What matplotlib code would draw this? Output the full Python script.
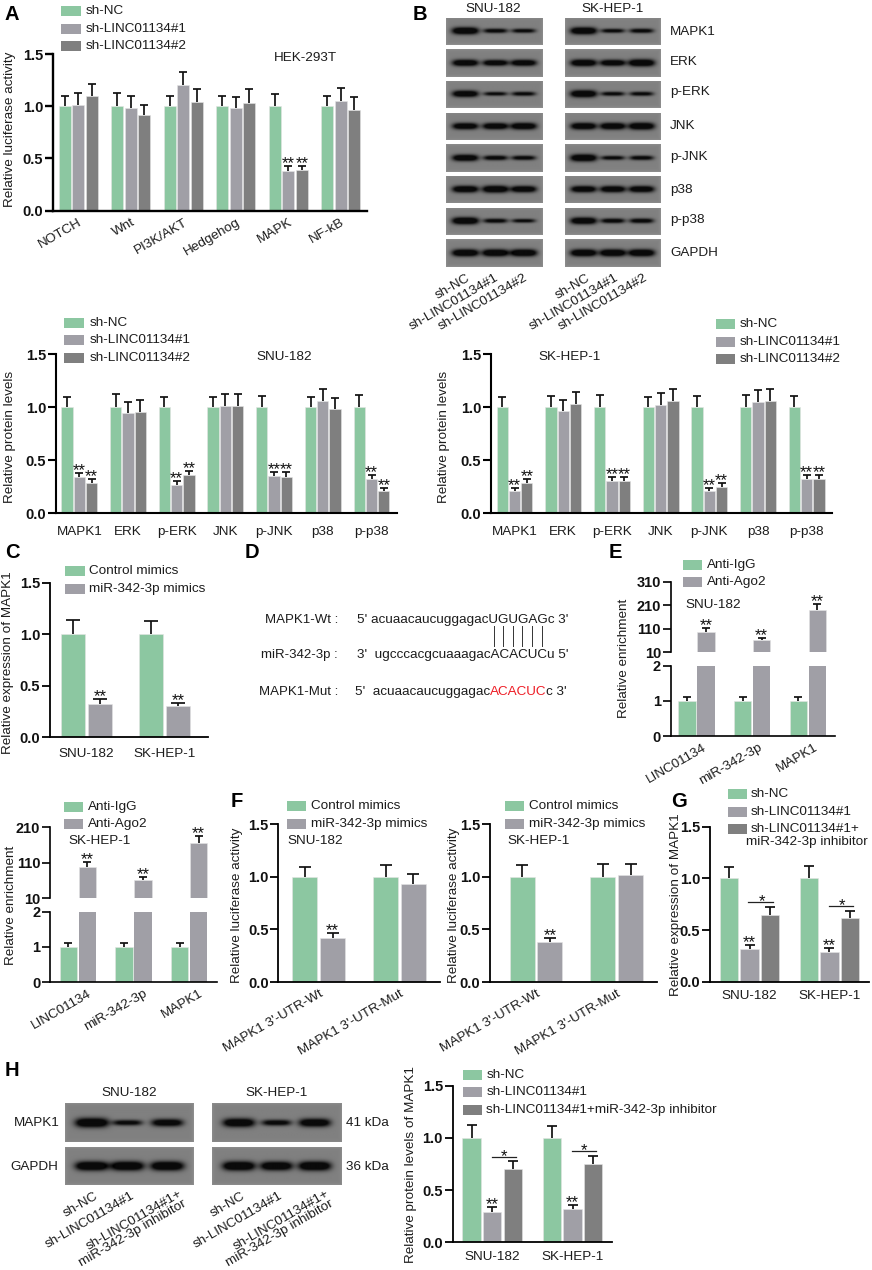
import numpy as np
import matplotlib
matplotlib.use('Agg')
import matplotlib.pyplot as plt
from matplotlib.patches import Rectangle
from matplotlib.transforms import ScaledTranslation

plt.rcParams['font.family'] = ['Liberation Sans', 'DejaVu Sans']
W, H = 872, 1270
GREEN, GRAY, DARK = '#8CC7A1', '#A09FA6', '#7F7F7F'
TXT = '#1c1c1c'
FS, TFS, SFS = 9.7, 10.5, 12.2

# ---------- data ----------
path_labels = ['NOTCH', 'Wnt', 'PI3K/AKT', 'Hedgehog', 'MAPK', 'NF-kB']
A_nc = [1.0, 1.0, 1.0, 1.0, 1.0, 1.0]
A_s1 = [1.01, 0.98, 1.20, 0.98, 0.38, 1.05]
A_s2 = [1.10, 0.92, 1.04, 1.03, 0.39, 0.96]
A_nc_top = [1.10, 1.13, 1.10, 1.10, 1.115, 1.10]
A_s1_top = [1.13, 1.10, 1.33, 1.085, 0.43, 1.175]
A_s2_top = [1.214, 1.01, 1.165, 1.165, 0.43, 1.085]
A_sig = ['', '', '', '', '**', '']

prot_labels = ['MAPK1', 'ERK', 'p-ERK', 'JNK', 'p-JNK', 'p38', 'p-p38']
S_nc = [1.0] * 7
S_s1 = [0.34, 0.95, 0.27, 1.015, 0.35, 1.055, 0.325]
S_s2 = [0.285, 0.96, 0.36, 1.01, 0.345, 0.985, 0.215]
S_nc_top = [1.10, 1.123, 1.094, 1.094, 1.107, 1.097, 1.113]
S_s1_top = [0.377, 1.053, 0.308, 1.126, 0.393, 1.17, 0.365]
S_s2_top = [0.32, 1.066, 0.40, 1.123, 0.39, 1.09, 0.242]
S_sig = ['**', '', '**', '', '**', '', '**']

K_nc = [1.0] * 7
K_s1 = [0.21, 0.965, 0.30, 1.02, 0.21, 1.05, 0.32]
K_s2 = [0.29, 1.03, 0.305, 1.055, 0.25, 1.06, 0.325]
K_nc_top = [1.10, 1.107, 1.113, 1.10, 1.107, 1.116, 1.107]
K_s1_top = [0.242, 1.069, 0.343, 1.132, 0.239, 1.164, 0.362]
K_s2_top = [0.324, 1.145, 0.346, 1.17, 0.283, 1.173, 0.365]

cells = ['SNU-182', 'SK-HEP-1']
C_ctl = [1.0, 1.0]
C_mim = [0.32, 0.30]
C_ctl_top = [1.132, 1.123]
C_mim_top = [0.368, 0.332]

enrich_labels = ['LINC01134', 'miR-342-3p', 'MAPK1']
E1_igg = [1.0, 1.0, 1.0]
E1_igg_top = [1.11, 1.11, 1.11]
E1_ago = [98, 62.5, 191.5]
E1_ago_top = [112, 71, 215.7]
E2_igg = [1.0, 1.0, 1.0]
E2_igg_top = [1.118, 1.10, 1.10]
E2_ago = [99, 61.6, 165]
E2_ago_top = [112, 70, 184.8]

utr_labels = ["MAPK1 3'-UTR-Wt", "MAPK1 3'-UTR-Mut"]
F1_ctl = [1.0, 1.0]
F1_mim = [0.42, 0.935]
F1_ctl_top = [1.095, 1.117]
F1_mim_top = [0.47, 1.029]
F2_ctl = [1.0, 1.0]
F2_mim = [0.38, 1.02]
F2_ctl_top = [1.114, 1.12]
F2_mim_top = [0.419, 1.124]
F_sig = ['**', '']

G_nc = [1.0, 1.0]
G_s1 = [0.315, 0.285]
G_inh = [0.65, 0.615]
G_nc_top = [1.106, 1.12]
G_s1_top = [0.355, 0.323]
G_inh_top = [0.72, 0.684]
G_bracket = [0.774, 0.729]

HP_nc = [1.0, 1.0]
HP_s1 = [0.295, 0.315]
HP_inh = [0.70, 0.75]
HP_nc_top = [1.12, 1.117]
HP_s1_top = [0.335, 0.357]
HP_inh_top = [0.776, 0.83]
HP_bracket = [0.817, 0.878]

blot_rows = ['MAPK1', 'ERK', 'p-ERK', 'JNK', 'p-JNK', 'p38', 'p-p38', 'GAPDH']
B_snu = [[1.0, .55, .5], [.9, .8, .85], [.9, .45, .5], [.85, .85, .9],
         [.9, .6, .55], [.9, .95, .85], [1.0, .55, .45], [1, 1, 1]]
B_hep = [[1.0, .5, .55], [.95, .85, 1.0], [1.0, .5, .5], [.9, .9, .95],
         [1.0, .5, .55], [.85, .85, .85], [.95, .6, .6], [1, 1, 1]]
H_snu = [[1.0, .5, .75], [1, 1, 1]]
H_hep = [[.9, .55, .85], [1, .95, 1]]

fig = plt.figure(figsize=(W / 100, H / 100), dpi=100, facecolor='white')
ov = fig.add_axes([0, 0, 1, 1], zorder=20)
ov.set_xlim(0, W)
ov.set_ylim(H, 0)
ov.axis('off')


def T(x, y, s, ha='left', va='center', fs=FS, **kw):
    kw.setdefault('color', TXT)
    ov.text(x, y, s, ha=ha, va=va, fontsize=fs, **kw)


def axpx(l, t, r, b):
    return fig.add_axes([l / W, 1 - b / H, (r - l) / W, (b - t) / H], facecolor='none')


def legend(x0, x1, tx, ys, labels, cols, ph=10):
    for y, lab, c in zip(ys, labels, cols):
        ov.add_patch(Rectangle((x0, y - ph / 2), x1 - x0, ph, fc=c, ec='none'))
        T(tx, y, lab)


def style(ax, lw, ticks, ticklabels):
    for s in ('top', 'right'):
        ax.spines[s].set_visible(False)
    ax.spines['left'].set_linewidth(lw)
    ax.spines['bottom'].set_linewidth(lw)
    ax.set_yticks(ticks)
    ax.set_yticklabels(ticklabels, fontsize=TFS, fontweight='bold', color='#111111')
    ax.tick_params(axis='y', length=5.5, width=lw, pad=1.5)


def draw_bars(ax, xs, vals, tops, col, bw, cap, elw, sigs=None, star_off=-1.5):
    vals, tops = np.array(vals, float), np.array(tops, float)
    ax.bar(xs, vals, width=bw, color=col, edgecolor='#e4e4e4', linewidth=0.4, zorder=2)
    eb = ax.errorbar(xs, vals, yerr=[np.zeros_like(vals), tops - vals], fmt='none', ecolor='#111111',
                     elinewidth=elw, capsize=cap, capthick=elw, zorder=3)
    eb[1][0].set_visible(False)  # upper whisker only
    if sigs:
        for x, t, s in zip(xs, tops, sigs):
            if s:
                ax.annotate(s, (x, t), xytext=(0, star_off), textcoords='offset points', ha='center',
                            va='baseline', fontsize=SFS, color='#111111', zorder=5, annotation_clip=False)


def panel(rect, c0, gstep, bw, bstep, series, tops, sigs, cols, labels, rot=0, cap=2.6, lw=1.5, elw=1.25,
          pad=4, fs=FS):
    l, t, r, b = rect
    ax = axpx(l, t, r, b)
    ax.set_xlim(0, r - l)
    ax.set_ylim(0, 1.5)
    n = len(series)
    centers = np.array([c0 - l + i * gstep for i in range(len(labels))])
    for j in range(n):
        xs = centers + (j - (n - 1) / 2) * bstep
        draw_bars(ax, xs, series[j], tops[j], cols[j], bw, cap, elw, sigs[j])
    style(ax, lw, [0, .5, 1, 1.5], ['0.0', '0.5', '1.0', '1.5'])
    ax.set_xticks(centers)
    if rot:
        ax.set_xticklabels(labels, rotation=rot, ha='right', va='top', rotation_mode='anchor',
                           fontsize=fs, color=TXT)
    else:
        ax.set_xticklabels(labels, fontsize=fs, color=TXT)
    ax.tick_params(axis='x', length=0, pad=pad)
    return ax, centers


def bracket(ax, x0, x1, y, xstar):
    ax.plot([x0, x1], [y, y], color='#222222', lw=0.9, zorder=4)
    ax.annotate('*', (xstar, y), xytext=(0, -3.0), textcoords='offset points', ha='center', va='baseline',
                fontsize=SFS, color='#111111', annotation_clip=False)


def broken(x_l, x_r, b_low, t_low, b_up, t_up, uticks, utop, c0, bw, bstep, gstep, igg, igg_top, ago, ago_top,
           labels, dx):
    low = axpx(x_l, t_low, x_r, b_low)
    up = axpx(x_l, t_up, x_r, b_up)
    low.set_xlim(0, x_r - x_l)
    up.set_xlim(0, x_r - x_l)
    low.set_ylim(0, 2)
    up.set_ylim(10, utop)
    c = np.array([c0 - x_l + i * gstep for i in range(3)])
    draw_bars(low, c - bstep / 2, igg, igg_top, GREEN, bw, 3.2, 1.25)
    low.bar(c + bstep / 2, [2, 2, 2], width=bw, color=GRAY, edgecolor='none', zorder=2)
    draw_bars(up, c + bstep / 2, ago, ago_top, GRAY, bw, 3.2, 1.25, ['**'] * 3)
    style(low, 1.2, [0, 1, 2], ['0', '1', '2'])
    style(up, 1.2, uticks, [str(v) for v in uticks])
    up.spines['bottom'].set_visible(False)
    up.set_xticks([])
    low.set_xticks(c)
    low.set_xticklabels(labels, rotation=30, ha='right', va='top', rotation_mode='anchor', fontsize=FS, color=TXT)
    low.tick_params(axis='x', length=0, pad=4)
    off = ScaledTranslation(dx / 100, 0, fig.dpi_scale_trans)
    for lab in low.get_xticklabels():
        lab.set_transform(lab.get_transform() + off)


def blot(l, t, r, b, centers, strengths, hw, thick=1.0):
    ax = axpx(l, t, r, b)
    h, w = int(round(b - t)) * 3, int(round(r - l)) * 3
    yy, xx = np.mgrid[0:h, 0:w]
    yy = (yy + .5) / 3
    xx = (xx + .5) / 3
    ym = (b - t) / 2
    edge = np.minimum.reduce([xx, yy, (r - l) - xx, (b - t) - yy])
    img = 128.0 + 14 * np.exp(-edge / 1.5)
    for cf, s in zip(centers, strengths):
        cx = cf * (r - l)
        sy = (0.8 + 2.6 * s) * thick
        a = (0.45 + 0.65 * s) * np.exp(-np.abs((xx - cx) / (hw * (0.82 + 0.18 * s))) ** 4) \
            * np.exp(-((yy - ym) / sy) ** 2)
        img = img - 118 * np.clip(a * 1.5, 0, 1)
    ax.imshow(img, cmap='gray', vmin=0, vmax=255, aspect='auto', interpolation='bilinear')
    ax.axis('off')


# ---------- Panel A ----------
panel((53, 54, 367, 210.7), 78.3, 52.5, 12, 13.5, [A_nc, A_s1, A_s2], [A_nc_top, A_s1_top, A_s2_top],
      [None, A_sig, A_sig], [GREEN, GRAY, DARK], path_labels, rot=30, lw=1.7)
legend(61.3, 81, 86, [10.7, 28.7, 46.3], ['sh-NC', 'sh-LINC01134#1', 'sh-LINC01134#2'], [GREEN, GRAY, DARK])
T(305, 58, 'HEK-293T', ha='center')
T(10, 129, 'Relative luciferase activity', ha='center', rotation=90)

# ---------- Panel B blots ----------
row_y = [(17.7, 45.3), (49.3, 77), (80.7, 108.3), (112.7, 140), (144.3, 172), (176, 203.3), (207.7, 235.3), (239, 266.7)]
row_lab_y = [32, 62, 92, 126, 157, 190, 220, 253]
for (t, b), ss, sh, name, ly in zip(row_y, B_snu, B_hep, blot_rows, row_lab_y):
    blot(446, t, 542, b, [.2, .51, .80], ss, 13)
    blot(565.3, t, 661, b, [.195, .5, .80], sh, 13)
    T(670, ly, name)
T(493, 9, 'SNU-182', ha='center')
T(612.7, 9, 'SK-HEP-1', ha='center')
for x0 in (0, 120):
    for lab, xe in zip(['sh-NC', 'sh-LINC01134#1', 'sh-LINC01134#2'], [469, 497.7, 527]):
        T(xe + x0, 277, lab, ha='right', va='center', rotation=30, rotation_mode='anchor')

# ---------- SNU-182 / SK-HEP-1 protein levels ----------
panel((56, 354.3, 397, 513.3), 79.3, 48.7, 11.3, 12.3, [S_nc, S_s1, S_s2], [S_nc_top, S_s1_top, S_s2_top],
      [None, S_sig, S_sig], [GREEN, GRAY, DARK], prot_labels, lw=1.5, pad=9)
legend(64.3, 84, 89.3, [322.7, 340.3, 358.3], ['sh-NC', 'sh-LINC01134#1', 'sh-LINC01134#2'], [GREEN, GRAY, DARK])
T(284, 356.7, 'SNU-182', ha='center')
T(10, 437, 'Relative protein levels', ha='center', rotation=90)

panel((491, 354.3, 831.7, 513.3), 514.5, 48.7, 11.3, 12.3, [K_nc, K_s1, K_s2], [K_nc_top, K_s1_top, K_s2_top],
      [None, S_sig, S_sig], [GREEN, GRAY, DARK], prot_labels, lw=1.5, pad=9)
legend(715.7, 735, 740, [324, 341.7, 359.3], ['sh-NC', 'sh-LINC01134#1', 'sh-LINC01134#2'], [GREEN, GRAY, DARK])
T(570, 356.7, 'SK-HEP-1', ha='center')
T(444, 437, 'Relative protein levels', ha='center', rotation=90)

# ---------- Panel C ----------
panel((50, 582.5, 207.7, 737.3), 86.5, 78.3, 24, 27, [C_ctl, C_mim], [C_ctl_top, C_mim_top],
      [None, ['**', '**']], [GREEN, GRAY], cells, cap=5.0, lw=1.3, pad=8)
legend(65, 84.6, 89, [571, 588.7], ['Control mimics', 'miR-342-3p mimics'], [GREEN, GRAY])
T(8.5, 663, 'Relative expression of MAPK1', ha='center', rotation=90)

# ---------- Panel D ----------
T(338, 620, 'MAPK1-Wt :', ha='right', fs=9.5)
T(338, 655, 'miR-342-3p :', ha='right', fs=9.5)
T(338, 691.7, 'MAPK1-Mut :', ha='right', fs=9.5)
T(357, 620, "5' acuaacaucuggagacUGUGAGc 3'")
T(357, 655, "3'  ugcccacgcuaaagacACACUCu 5'")
T(490, 691.7, "5'  acuaacaucuggagac", ha='right')
T(490, 691.7, 'ACACUC', color='#ee1c25')
T(546, 691.7, 'c 3\'')
for x in [494, 503, 512.7, 522, 532, 541.5]:
    ov.plot([x, x], [626, 646], color='#333333', lw=0.7)

# ---------- Panel E ----------
broken(670.7, 835, 736, 665.7, 652.3, 581.7, [10, 110, 210, 310], 310, 696.5, 17.3, 19, 55.67,
       E1_igg, E1_igg_top, E1_ago, E1_ago_top, enrich_labels, 6)
legend(682.7, 702, 706.7, [564.7, 582.3], ['Anti-IgG', 'Anti-Ago2'], [GREEN, GRAY])
T(713.3, 605, 'SNU-182', ha='center')
T(624, 658.7, 'Relative enrichment', ha='center', rotation=90)

broken(50, 216.7, 982, 911.7, 898.3, 827.3, [10, 110, 210], 210, 77.7, 17.3, 19, 55.67,
       E2_igg, E2_igg_top, E2_ago, E2_ago_top, enrich_labels, 10)
legend(64, 83.3, 87.7, [806.7, 824.3], ['Anti-IgG', 'Anti-Ago2'], [GREEN, GRAY])
T(99.3, 840.7, 'SK-HEP-1', ha='center')
T(11, 905.5, 'Relative enrichment', ha='center', rotation=90)

# ---------- Panel F ----------
panel((278.3, 824.3, 440, 982), 318.8, 80.7, 25, 27.7, [F1_ctl, F1_mim], [F1_ctl_top, F1_mim_top],
      [None, F_sig], [GREEN, GRAY], utr_labels, rot=30, cap=4.4, lw=1.3)
legend(286.7, 305.7, 310.7, [806.3, 823.7], ['Control mimics', 'miR-342-3p mimics'], [GREEN, GRAY])
T(315, 841, 'SNU-182', ha='center')
T(237, 905, 'Relative luciferase activity', ha='center', rotation=90)

panel((490, 824.3, 656.7, 982), 536, 80.7, 25, 27.7, [F2_ctl, F2_mim], [F2_ctl_top, F2_mim_top],
      [None, F_sig], [GREEN, GRAY], utr_labels, rot=30, cap=4.4, lw=1.3)
legend(505, 524, 529, [806.3, 823.7], ['Control mimics', 'miR-342-3p mimics'], [GREEN, GRAY])
T(539, 841, 'SK-HEP-1', ha='center')
T(454, 905, 'Relative luciferase activity', ha='center', rotation=90)

# ---------- Panel G ----------
axG, cG = panel((710, 826.7, 869, 981.7), 749.7, 79.7, 18.5, 20.5, [G_nc, G_s1, G_inh],
                [G_nc_top, G_s1_top, G_inh_top], [None, ['**', '**'], None], [GREEN, GRAY, DARK], cells,
                cap=3.6, lw=1.3, pad=6)
for c, y, d0, d1, ds in zip(cG, G_bracket, [-1.4, -0.1], [23, 23.9], [12, 12.9]):
    bracket(axG, c + d0, c + d1, y, c + ds)
legend(727.7, 746.7, 751, [794, 811.7, 829.3], ['sh-NC', 'sh-LINC01134#1', 'sh-LINC01134#1+'], [GREEN, GRAY, DARK])
T(745.7, 842.3, 'miR-342-3p inhibitor')
T(676, 905, 'Relative expression of MAPK1', ha='center', rotation=90)

# ---------- Panel H ----------
hrows = [(1103.3, 1141.7), (1147, 1185)]
for (t, b), ss, sh in zip(hrows, H_snu, H_hep):
    blot(64.7, t, 193.3, b, [.21, .485, .795], ss, 16.5, 1.3)
    blot(212.3, t, 341.3, b, [.207, .496, .79], sh, 16, 1.3)
T(129.3, 1093, 'SNU-182', ha='center')
T(276.7, 1093, 'SK-HEP-1', ha='center')
T(59.3, 1123, 'MAPK1', ha='right')
T(58, 1166.7, 'GAPDH', ha='right')
T(345.7, 1123, '41 kDa')
T(345.7, 1166.7, '36 kDa')
for lab, xs, y in [('sh-NC', (96.7, 244), 1195), ('sh-LINC01134#1', (134, 281.7), 1195),
                   ('sh-LINC01134#1+', (181.7, 328), 1193), ('miR-342-3p inhibitor', (185, 332.3), 1203)]:
    for x in xs:
        T(x, y, lab, ha='right', rotation=30, rotation_mode='anchor')

axH, cH = panel((452.7, 1085.7, 612.3, 1242.3), 492.2, 80.3, 18.3, 20.7, [HP_nc, HP_s1, HP_inh],
                [HP_nc_top, HP_s1_top, HP_inh_top], [None, ['**', '**'], None], [GREEN, GRAY, DARK], cells,
                cap=3.6, lw=1.3, pad=6)
for c, y in zip(cH, HP_bracket):
    bracket(axH, c - 0.5, c + 23.8, y, c + 11.5)
legend(463, 482.3, 486.3, [1074.7, 1092.3, 1110],
       ['sh-NC', 'sh-LINC01134#1', 'sh-LINC01134#1+miR-342-3p inhibitor'], [GREEN, GRAY, DARK])
T(411, 1165, 'Relative protein levels of MAPK1', ha='center', rotation=90)

# ---------- panel letters ----------
for s, x, y in [('A', 4, 15), ('B', 413, 15), ('C', 5, 552.7), ('D', 245, 552.7), ('E', 609, 553),
                ('F', 230.7, 801.7), ('G', 671, 801.7), ('H', 5, 1070.7)]:
    T(x, y, s, fs=14.5, fontweight='bold', color='black')

fig.savefig('out.png', dpi=100)
